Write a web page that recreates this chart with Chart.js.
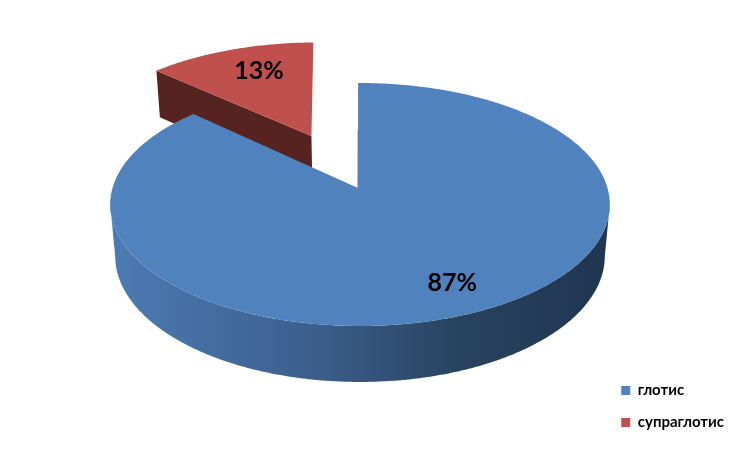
<!DOCTYPE html>
<html>
<head>
<meta charset="utf-8">
<style>
  html, body { margin: 0; padding: 0; background: #fff; }
  #chart { display: block; }
</style>
<script src="https://cdn.jsdelivr.net/npm/chart.js@4"></script>
</head>
<body>
<canvas id="chart" width="750" height="450"></canvas>
<script>
const categories = ["глотис", "супраглотис"];
const shares = [87, 13];
const sliceColors = ["#5082BD", "#C0504D"];
// how far each slice is pulled out, as a part of the radius
const explode = [0, 0.505];
// small turn of a slice in degrees, the original is not quite on the pie's grid
const sliceTurn = [-0.5, -1.0];
// where the percent text sits inside its slice
const labelTurn = [-2.3, 2.0];
const labelRadius = [0.795, 0.72];

// perspective of the pie: top plane and the lower plane of the disc
const view = { cx: 360, cy: 188, r: 247.5, a: 93.7, c: -0.1358, depthW: 0.02, depthY: 56 };
const apexU = -0.008;

function project(u, v, low) {
  const w = 1 + view.c * v + (low ? view.depthW : 0);
  return {
    x: view.cx + view.r * u / w,
    y: (view.a * v + view.cy + (low ? view.depthY : 0)) / w,
  };
}

function arcPoints(from, to, du, dv, low) {
  const pts = [];
  const steps = Math.ceil(Math.abs(to - from) / 0.01);
  for (let i = 0; i <= steps; i++) {
    const t = from + (to - from) * i / steps;
    pts.push(project(du + Math.cos(t), dv + Math.sin(t), low));
  }
  return pts;
}

function fillPoly(ctx, pts, color) {
  ctx.beginPath();
  pts.forEach((p, i) => (i ? ctx.lineTo(p.x, p.y) : ctx.moveTo(p.x, p.y)));
  ctx.closePath();
  ctx.fillStyle = color;
  ctx.fill();
}

const pie3d = {
  id: "pie3d",
  // the arcs keep their angles from Chart.js, only the painting is done here
  beforeDatasetDraw(chart) {
    const ctx = chart.ctx;
    const arcs = chart.getDatasetMeta(0).data.map((arc, i) => {
      const mid = (arc.startAngle + arc.endAngle) / 2;
      const turn = sliceTurn[i] * Math.PI / 180;
      return {
        start: arc.startAngle + turn,
        end: arc.endAngle + turn,
        mid: mid + labelTurn[i] * Math.PI / 180,
        du: Math.cos(mid) * explode[i] + apexU,
        dv: Math.sin(mid) * explode[i],
        color: sliceColors[i],
      };
    });
    const blue = arcs[0];
    const red = arcs[1];

    // red slice: dark cut face, then the top
    const rs = { x: red.du + Math.cos(red.start), y: red.dv + Math.sin(red.start) };
    fillPoly(ctx, [
      project(red.du, red.dv, false),
      project(rs.x, rs.y, false),
      project(rs.x, rs.y, true),
      project(red.du, red.dv, true),
    ], "#572320");
    fillPoly(ctx, [project(red.du, red.dv, false), ...arcPoints(red.start, red.end, red.du, red.dv, false)], red.color);

    // blue slice: round wall with a left to right shade
    const edge = Math.asin(-view.c);
    const wall = [
      ...arcPoints(edge, Math.PI - edge, 0, 0, false),
      ...arcPoints(Math.PI - edge, edge, 0, 0, true),
    ];
    const shade = ctx.createLinearGradient(110, 0, 610, 0);
    shade.addColorStop(0, "#4C7BB3");
    shade.addColorStop(0.4, "#3C5F8E");
    shade.addColorStop(0.7, "#28435F");
    shade.addColorStop(1, "#1F3550");
    fillPoly(ctx, wall, shade);

    // thin dark line of the blue cut face
    const a = project(apexU, 0, true);
    const b = project(apexU, -1, true);
    ctx.strokeStyle = "#1F3550";
    ctx.lineWidth = 1;
    ctx.beginPath();
    ctx.moveTo(a.x, a.y);
    ctx.lineTo(b.x, b.y);
    ctx.stroke();

    fillPoly(ctx, [project(apexU, 0, false), ...arcPoints(blue.start, blue.end, 0, 0, false)], blue.color);

    // percent labels
    ctx.fillStyle = "#000";
    ctx.font = "bold 25px Lato";
    ctx.textAlign = "center";
    ctx.textBaseline = "middle";
    arcs.forEach((s, i) => {
      const r = labelRadius[i];
      const p = project(s.du + Math.cos(s.mid) * r, s.dv + Math.sin(s.mid) * r, false);
      ctx.fillText(shares[i] + "%", p.x, p.y);
    });
    return false;
  },
};

new Chart(document.getElementById("chart"), {
  type: "pie",
  data: {
    labels: categories,
    datasets: [{ data: shares, backgroundColor: sliceColors, borderWidth: 0 }],
  },
  options: {
    responsive: false,
    animation: false,
    events: [],
    layout: { padding: { right: 16, bottom: 3 } },
    plugins: {
      tooltip: { enabled: false },
      legend: {
        position: "right",
        align: "end",
        labels: {
          boxWidth: 9,
          boxHeight: 9,
          padding: 17,
          color: "#000",
          font: { family: "Lato", size: 15, weight: "bold" },
        },
      },
    },
  },
  plugins: [pie3d],
});
</script>
</body>
</html>
